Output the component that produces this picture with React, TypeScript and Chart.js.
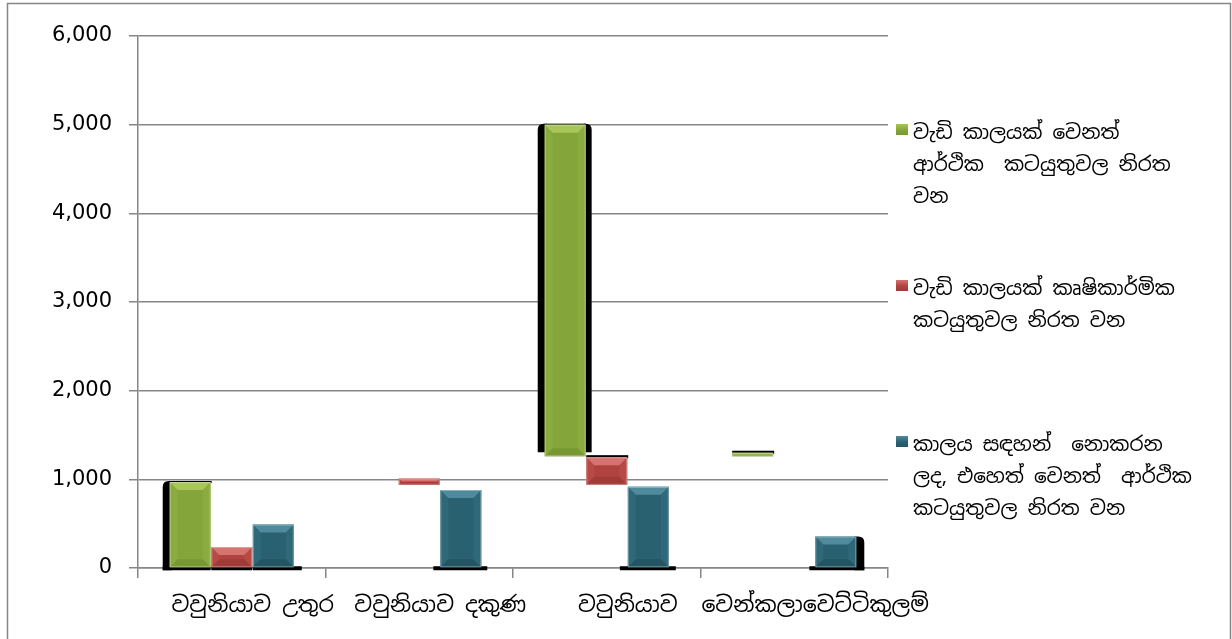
import React, { useEffect, useRef } from 'react';
import { Chart, registerables } from 'chart.js';

Chart.register(...registerables);

// ---- data ----
const categories = ['වවුනියාව උතුර', 'වවුනියාව දකුණ', 'වවුනියාව', 'වෙන්කලාවෙට්ටිකුලම්'];

const greenLegendLines = ['වැඩි කාලයක් වෙනත්', 'ආර්ථික  කටයුතුවල නිරත', 'වන'];
const redLegendLines = ['වැඩි කාලයක් කෘෂිකාර්මික', 'කටයුතුවල නිරත වන'];
const tealLegendLines = ['කාලය සඳහන්  නොකරන', 'ලද, එහෙත් වෙනත්  ආර්ථික', 'කටයුතුවල නිරත වන'];

// floating ranges [low, high] as drawn in the picture
const greenRanges: ([number, number] | null)[] = [[0, 970], null, [1260, 5000], [1260, 1300]];
const redRanges: ([number, number] | null)[] = [[0, 238], [940, 1010], [938, 1250], null];
const tealRanges: ([number, number] | null)[] = [[0, 490], [0, 880], [0, 915], [0, 355]];

const yTickValues = [0, 1000, 2000, 3000, 4000, 5000, 6000];

// ---- styles ----
const COLORS = [
  { base: '#84A53A', light: '#A8C65A', side: '#8AAB3E', dark: '#789833' },
  { base: '#B0433F', light: '#D7736F', side: '#B84A46', dark: '#A03B37' },
  { base: '#2A6171', light: '#4F8B9C', side: '#2F6878', dark: '#245565' },
];
const GRID = '#868686';
const TICK_FONT = "'DejaVu Sans', Verdana, sans-serif";
const SINHALA_FONT = "'Noto Sans Sinhala', 'Iskoola Pota', 'Noto Sans', 'DejaVu Sans', sans-serif";

// black offset-shadow pieces around some bars (px): side strips, top line, bottom line extents
const shadowSpecs = [
  { ds: 0, i: 0, left: 7, right: 0, top: 1, bl: 7, br: 0 },
  { ds: 1, i: 0, left: 0, right: 0, top: 0, bl: 0, br: 0 },
  { ds: 2, i: 0, left: 0, right: 0, top: 0, bl: 0, br: 8 },
  { ds: 2, i: 1, left: 0, right: 0, top: 0, bl: 7, br: 6 },
  { ds: 0, i: 2, left: 7, right: 6, top: 1, bl: -1, br: -1 },
  { ds: 1, i: 2, left: 0, right: 0, top: 2, bl: -1, br: -1 },
  { ds: 2, i: 2, left: 0, right: 0, top: 0, bl: 8, br: 7 },
  { ds: 0, i: 3, left: 0, right: 0, top: 2, bl: -1, br: -1 },
  { ds: 2, i: 3, left: 0, right: 8, top: 0, bl: 6, br: 8 },
];

function barBox(el: any) {
  const p = el.getProps(['x', 'y', 'base', 'width'], true);
  const left = p.x - p.width / 2;
  const right = p.x + p.width / 2;
  const top = Math.min(p.y, p.base);
  const bottom = Math.max(p.y, p.base);
  return { left, right, top, bottom };
}

function roundStrip(ctx: any, x0: number, x1: number, y0: number, y1: number, roundLeft: boolean) {
  const r = Math.min(6, (y1 - y0) / 2, x1 - x0);
  ctx.beginPath();
  if (roundLeft) {
    ctx.moveTo(x1, y0);
    ctx.lineTo(x1, y1);
    ctx.lineTo(x0, y1);
    ctx.lineTo(x0, y0 + r);
    ctx.quadraticCurveTo(x0, y0, x0 + r, y0);
  } else {
    ctx.moveTo(x0, y0);
    ctx.lineTo(x1 - r, y0);
    ctx.quadraticCurveTo(x1, y0, x1, y0 + r);
    ctx.lineTo(x1, y1);
    ctx.lineTo(x0, y1);
  }
  ctx.closePath();
  ctx.fill();
}

const decorPlugin = {
  id: 'decor',
  beforeDraw(chart: any) {
    const ctx = chart.ctx;
    ctx.save();
    ctx.strokeStyle = GRID;
    ctx.lineWidth = 1.5;
    ctx.strokeRect(7.5, 3.5, 1223, 700);
    ctx.restore();
  },
  beforeDatasetsDraw(chart: any) {
    const ctx = chart.ctx;
    ctx.save();
    ctx.fillStyle = '#000';
    shadowSpecs.forEach((s) => {
      const meta = chart.getDatasetMeta(s.ds);
      const el = meta.data[s.i];
      if (!el || chart.data.datasets[s.ds].data[s.i] == null) return;
      const b = barBox(el);
      if (s.left) roundStrip(ctx, b.left - s.left, b.left + 2, b.top - s.top, b.bottom + (s.bl >= 0 ? 3 : -4), true);
      if (s.right) roundStrip(ctx, b.right - 2, b.right + s.right, b.top - s.top, b.bottom + (s.br >= 0 ? 3 : -4), false);
      if (s.top) ctx.fillRect(b.left, b.top - s.top, b.right - b.left + (s.right ? 0 : 1), s.top + 1);
      if (s.bl >= 0 && s.br >= 0) ctx.fillRect(b.left - s.bl, b.bottom - 1, b.right - b.left + s.bl + s.br, 4);
    });
    ctx.restore();
  },
  afterDatasetsDraw(chart: any) {
    const ctx = chart.ctx;
    ctx.save();
    chart.data.datasets.forEach((ds: any, di: number) => {
      const meta = chart.getDatasetMeta(di);
      const c = COLORS[di];
      meta.data.forEach((el: any, i: number) => {
        if (ds.data[i] == null) return;
        const { left, right, top, bottom } = barBox(el);
        const h = bottom - top;
        const bv = Math.min(8, h / 2, (right - left) / 2);
        // sides
        ctx.fillStyle = c.side;
        ctx.beginPath();
        ctx.moveTo(left, top);
        ctx.lineTo(left + bv, top + bv);
        ctx.lineTo(left + bv, bottom - bv);
        ctx.lineTo(left, bottom);
        ctx.closePath();
        ctx.fill();
        ctx.beginPath();
        ctx.moveTo(right, top);
        ctx.lineTo(right - bv, top + bv);
        ctx.lineTo(right - bv, bottom - bv);
        ctx.lineTo(right, bottom);
        ctx.closePath();
        ctx.fill();
        // bottom
        ctx.fillStyle = c.dark;
        ctx.beginPath();
        ctx.moveTo(left, bottom);
        ctx.lineTo(left + bv, bottom - bv);
        ctx.lineTo(right - bv, bottom - bv);
        ctx.lineTo(right, bottom);
        ctx.closePath();
        ctx.fill();
        // top
        ctx.fillStyle = c.light;
        ctx.beginPath();
        ctx.moveTo(left, top);
        ctx.lineTo(right, top);
        ctx.lineTo(right - bv, top + bv);
        ctx.lineTo(left + bv, top + bv);
        ctx.closePath();
        ctx.fill();
        // thin light edge
        ctx.strokeStyle = 'rgba(255,255,255,0.35)';
        ctx.lineWidth = 1;
        ctx.strokeRect(left + 0.5, top + 0.5, right - left - 1, h - 1);
      });
    });
    ctx.restore();
  },
};

const legendItems = [
  { lines: greenLegendLines, color: 0, top: 116 },
  { lines: redLegendLines, color: 1, top: 272 },
  { lines: tealLegendLines, color: 2, top: 428 },
];

export default function App() {
  const canvasRef = useRef<HTMLCanvasElement | null>(null);

  useEffect(() => {
    document.body.style.margin = '0';
    const canvas = canvasRef.current;
    if (!canvas) return;
    const chart = new Chart(canvas, {
      type: 'bar',
      data: {
        labels: categories,
        datasets: [
          { label: greenLegendLines.join(' '), data: greenRanges as any, backgroundColor: COLORS[0].base },
          { label: redLegendLines.join(' '), data: redRanges as any, backgroundColor: COLORS[1].base },
          { label: tealLegendLines.join(' '), data: tealRanges as any, backgroundColor: COLORS[2].base },
        ],
      },
      options: {
        animation: false,
        responsive: false,
        devicePixelRatio: 1,
        layout: { padding: { left: 0, right: 344, top: 36, bottom: 0 } },
        plugins: { legend: { display: false }, tooltip: { enabled: false } },
        datasets: { bar: { categoryPercentage: 0.665, barPercentage: 0.985, borderWidth: 0, borderSkipped: false } } as any,
        scales: {
          x: {
            grid: { display: true, drawOnChartArea: false, drawTicks: true, tickLength: 10, color: GRID, lineWidth: 1.5 },
            border: { display: true, color: GRID, width: 1.5 },
            ticks: {
              color: '#000',
              font: { family: SINHALA_FONT, size: 22 },
              padding: 15,
              labelOffset: 21,
              maxRotation: 0,
              autoSkip: false,
            },
            afterFit(scale: any) {
              scale.height = 71;
            },
          },
          y: {
            min: 0,
            max: 6000,
            grid: { color: GRID, lineWidth: 1.5, tickLength: 9 },
            border: { display: true, color: GRID, width: 1.5 },
            afterBuildTicks(scale: any) {
              scale.ticks = yTickValues.map((v) => ({ value: v }));
            },
            ticks: {
              color: '#000',
              font: { family: TICK_FONT, size: 21 },
              padding: 17,
              callback: (v: any) => Number(v).toLocaleString('en-US'),
            },
            afterFit(scale: any) {
              scale.width = 138;
            },
          },
        },
      },
      plugins: [decorPlugin],
    });
    return () => chart.destroy();
  }, []);

  return (
    <div style={{ position: 'relative', width: 1232, height: 639, background: '#fff', overflow: 'hidden' }}>
      <canvas ref={canvasRef} width={1232} height={639} style={{ display: 'block' }} />
      {legendItems.map((item, k) => {
        const c = COLORS[item.color];
        return (
          <div key={k} style={{ position: 'absolute', left: 896, top: item.top, width: 330 }}>
            <div
              style={{
                position: 'absolute',
                left: 0,
                top: 8,
                width: 12,
                height: 11,
                background: `linear-gradient(180deg, ${c.light} 0%, ${c.base} 55%, ${c.dark} 100%)`,
              }}
            />
            <div
              style={{
                marginLeft: 17,
                fontFamily: SINHALA_FONT,
                fontSize: 20,
                lineHeight: '32px',
                color: '#000',
                whiteSpace: 'pre',
              }}
            >
              {item.lines.map((ln, j) => (
                <div key={j}>{ln}</div>
              ))}
            </div>
          </div>
        );
      })}
    </div>
  );
}
